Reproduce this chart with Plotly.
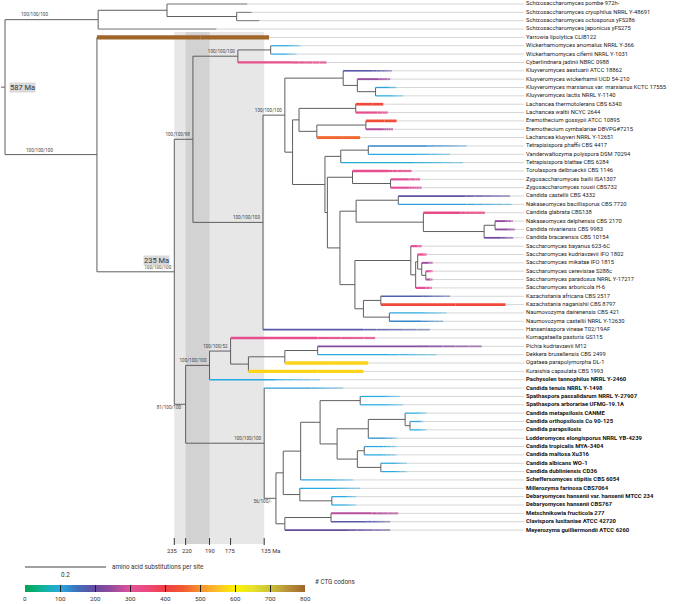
import plotly.graph_objects as go

# ---------------- data ----------------
LEAVES = [
    "Schizosaccharomyces pombe 972h-", "Schizosaccharomyces cryophilus NRRL Y-48691",
    "Schizosaccharomyces octosporus yFS286", "Schizosaccharomyces japonicus yFS275",
    "Yarrowia lipolytica CLIB122", "Wickerhamomyces anomalus NRRL Y-366",
    "Wickerhamomyces ciferrii NRRL Y-1031", "Cyberlindnera jadinii NBRC 0988",
    "Kluyveromyces aestuarii ATCC 18862", "Kluyveromyces wickerhamii UCD 54-210",
    "Kluyveromyces marxianus var. marxianus KCTC 17555", "Kluyveromyces lactis NRRL Y-1140",
    "Lachancea thermotolerans CBS 6340", "Lachancea waltii NCYC 2644",
    "Eremothecium gossypii ATCC 10895", "Eremothecium cymbalariae DBVPG#7215",
    "Lachancea kluyveri NRRL Y-12651", "Tetrapisispora phaffii CBS 4417",
    "Vanderwaltozyma polyspora DSM 70294", "Tetrapisispora blattae CBS 6284",
    "Torulaspora delbrueckii CBS 1146", "Zygosaccharomyces bailii ISA1307",
    "Zygosaccharomyces rouxii CBS732", "Candida castellii CBS 4332",
    "Nakaseomyces bacillisporus CBS 7720", "Candida glabrata CBS138",
    "Nakaseomyces delphensis CBS 2170", "Candida nivariensis CBS 9983",
    "Candida bracarensis CBS 10154", "Saccharomyces bayanus 623-6C",
    "Saccharomyces kudriavzevii IFO 1802", "Saccharomyces mikatae IFO 1815",
    "Saccharomyces cerevisiae S288c", "Saccharomyces paradoxus NRRL Y-17217",
    "Saccharomyces arboricola H-6", "Kazachstania africana CBS 2517",
    "Kazachstania naganishii CBS 8797", "Naumovozyma dairenensis CBS 421",
    "Naumovozyma castellii NRRL Y-12630", "Hanseniaspora vineae T02/19AF",
    "Komagataella pastoris GS115", "Pichia kudriavzevii M12",
    "Dekkera bruxellensis CBS 2499", "Ogataea parapolymorpha DL-1",
    "Kuraishia capsulata CBS 1993", "Pachysolen tannophilus NRRL Y-2460",
    "Candida tenuis NRRL Y-1498", "Spathaspora passalidarum NRRL Y-27907",
    "Spathaspora arborariae UFMG-19.1A", "Candida metapsilosis CANME",
    "Candida orthopsilosis Co 90-125", "Candida parapsilosis",
    "Lodderomyces elongisporus NRRL YB-4239", "Candida tropicalis MYA-3404",
    "Candida maltosa Xu316", "Candida albicans WO-1", "Candida dubliniensis CD36",
    "Scheffersomyces stipitis CBS 6054", "Millerozyma farinosa CBS7064",
    "Debaryomyces hansenii var. hansenii MTCC 234", "Debaryomyces hansenii CBS767",
    "Metschnikowia fructicola 277", "Clavispora lusitaniae ATCC 42720",
    "Meyerozyma guilliermondii ATCC 6260",
]
FIRST_BOLD = 45  # CUG-Ser1 clade shown in bold (index of first bold leaf)

# number of CTG codons per genome (None = not coloured)
CTG = [None, None, None, None, 800, 100, 100, 320, 180, 250, 110, 100, 420, 320,
       430, 270, 460, 130, 100, 90, 320, 310, 300, 190, 110, 330, 250, 240, 210,
       310, 320, 260, 300, 260, 310, 170, 420, 100, 130, 180, 320, 230, 100, 570,
       570, 100, 110, 100, 100, 100, 100, 100, 120, 100, 100, 100, 100, 100, 100,
       100, 100, 270, 180, 200]

# tip depths (amino acid substitutions per site from root)
TIP_DEPTH = [0.598, 0.609, 0.628, 0.522, 0.652, 0.730, 0.720, 0.794, 0.955, 0.951,
             0.967, 0.983, 0.934, 0.945, 0.967, 0.958, 0.877, 1.140, 1.099, 1.131,
             1.004, 1.025, 1.029, 1.247, 1.251, 1.185, 1.254, 1.259, 1.255, 1.029,
             1.041, 1.056, 1.056, 1.056, 1.054, 1.099, 1.236, 1.091, 1.082, 1.049,
             0.914, 1.177, 1.066, 0.897, 0.885, 0.778, 0.835, 0.975, 0.983, 1.041,
             1.033, 1.041, 0.967, 0.967, 0.967, 0.992, 0.992, 0.860, 0.877, 0.868,
             0.868, 0.971, 0.951, 0.951]

# internal nodes: name -> (depth, children); children are node names or leaf indices
NODES = {
    "root": (0.000, ["SCH", "YAR"]),
    "SCH": (0.230, ["SCH_a", 3]), "SCH_a": (0.400, [0, "SCH_b"]), "SCH_b": (0.572, [1, 2]),
    "YAR": (0.227, [4, "A"]),
    "A": (0.418, ["B", "C"]),
    "B": (0.464, ["WC", "N"]),
    "WC": (0.575, ["WICK", 7]), "WICK": (0.656, [5, 6]),
    "N": (0.637, ["S1", 39]),
    "S1": (0.691, ["K", "R"]),
    "K": (0.835, [8, "K2"]), "K2": (0.870, [9, "K3"]), "K3": (0.915, [10, 11]),
    "R": (0.710, ["LE", "X"]),
    "LE": (0.726, ["L", "EK"]), "L": (0.866, [12, 13]),
    "EK": (0.770, ["E", 16]), "E": (0.891, [14, 15]),
    "X": (0.790, ["TET", "Y"]),
    "TET": (0.829, ["TET2", 19]), "TET2": (0.897, [17, 18]),
    "Y": (0.796, ["ZT", "Z"]),
    "ZT": (0.858, [20, "ZYG"]), "ZYG": (0.952, [21, 22]),
    "Z": (0.827, ["NAK", "SKN"]),
    "NAK": (0.867, ["NAK1", "NAK2"]), "NAK1": (0.971, [23, 24]),
    "NAK2": (1.033, [25, "NAK3"]), "NAK3": (1.183, ["NAK4", 28]), "NAK4": (1.210, [26, 27]),
    "SKN": (0.864, ["SAC", "KN"]),
    "SAC": (1.002, [29, "SAC1"]), "SAC1": (1.014, ["SAC2", 34]),
    "SAC2": (1.019, [30, "SAC3"]), "SAC3": (1.029, [31, "SAC4"]), "SAC4": (1.039, [32, 33]),
    "KN": (0.885, ["KAZ", "NAU"]), "KAZ": (0.928, [35, 36]), "NAU": (0.949, [37, 38]),
    "C": (0.446, ["MET", "CUG"]),
    "MET": (0.505, ["MET1", 45]), "MET1": (0.557, [40, "MET2"]),
    "MET2": (0.601, ["MET3", 44]), "MET3": (0.691, ["MET4", 43]), "MET4": (0.772, [41, 42]),
    "CUG": (0.640, [46, "CUG1"]),
    "CUG1": (0.669, ["CUG2", "MCM"]),
    "CUG2": (0.687, ["SCHG", "DEBG"]),
    "SCHG": (0.730, ["SC", 57]), "SC": (0.778, ["SPA", "CAN"]), "SPA": (0.877, [47, 48]),
    "CAN": (0.820, ["LOD", "CAL"]), "LOD": (0.897, ["PAR", 52]),
    "PAR": (0.988, [49, "PAR2"]), "PAR2": (1.000, [50, 51]),
    "CAL": (0.870, ["TRO", "ALB"]), "TRO": (0.887, [53, 54]), "ALB": (0.928, [55, 56]),
    "DEBG": (0.728, [58, "DEB"]), "DEB": (0.807, [59, 60]),
    "MCM": (0.691, ["MC", 63]), "MC": (0.805, [61, 62]),
}

SUPPORT = {"SCH": "100/100/100", "YAR": "100/100/100", "A": "100/100/100",
           "B": "100/100/98", "WC": "100/100/100", "N": "100/100/100",
           "S1": "100/100/100", "C": "81/100/100", "MET": "100/100/100",
           "MET1": "100/100/52", "CUG": "100/100/100", "CUG1": "56/100/-"}
AGES = {"root": "587 Ma", "A": "235 Ma"}
TIME_NODES = ["A", "C", "MET", "MET1", "CUG"]
TIME_LABELS = ["235", "220", "190", "175", "135 Ma"]
SCALE_LEN = 0.2
CB_TICKS = [0, 100, 200, 300, 400, 500, 600, 700, 800]

# ---------------- layout constants ----------------
W, H = 683, 604
PX = 405.0            # pixels per substitution unit
X0PX = 5.0            # root pixel position
ROW = 8.35            # pixels per leaf row
Y0PX = 4.0
FONT = "Roboto"
CB_X0, CB_X1 = 25, 305
def px2x(p): return (p - X0PX) / PX
def py2y(p): return (p - Y0PX) / ROW

CSCALE = [(0, "#00a651"), (50, "#0fb49a"), (100, "#27aae1"), (150, "#3f6fba"),
          (200, "#674a9e"), (250, "#9a4c9f"), (300, "#e3519c"), (350, "#ec4a7a"),
          (400, "#ee3e43"), (450, "#f15b31"), (500, "#f7922b"), (550, "#fcc02c"),
          (600, "#fff200"), (650, "#e6e22d"), (700, "#cbc336"), (750, "#b7923a"),
          (800, "#a0652b")]

def hex2rgb(h): return tuple(int(h[i:i + 2], 16) for i in (1, 3, 5))
def ctg_rgb(v):
    for (a, ca), (b, cb) in zip(CSCALE[:-1], CSCALE[1:]):
        if a <= v <= b:
            t = (v - a) / (b - a)
            c1, c2 = hex2rgb(ca), hex2rgb(cb)
            return tuple(c1[k] + (c2[k] - c1[k]) * t for k in range(3))
    return hex2rgb(CSCALE[-1][1])
def blend(c, t, g=(214, 214, 214)):
    return "rgb(%d,%d,%d)" % tuple(c[k] + (g[k] - c[k]) * t for k in range(3))

# ---------------- tree geometry ----------------
ypos = {}
def node_y(n):
    if isinstance(n, int):
        return float(n)
    if n not in ypos:
        ch = NODES[n][1]
        ypos[n] = (node_y(ch[0]) + node_y(ch[-1])) / 2
    return ypos[n]
for n in NODES:
    node_y(n)
def depth(n):
    return TIP_DEPTH[n] if isinstance(n, int) else NODES[n][0]

ix, iy, tips = [], [], []
for n, (d, ch) in NODES.items():
    ix += [d, d, None]; iy += [node_y(ch[0]), node_y(ch[-1]), None]
    for c in ch:
        if isinstance(c, int):
            tips.append((c, d))
        else:
            ix += [d, depth(c), None]; iy += [node_y(c), node_y(c), None]
ix += [px2x(1), 0, None]; iy += [ypos["root"], ypos["root"], None]

fig = go.Figure()
LAB_X = px2x(526)
ext_x, ext_y = [], []
for i in range(len(LEAVES)):
    ext_x += [TIP_DEPTH[i], px2x(524), None]; ext_y += [i, i, None]
fig.add_trace(go.Scatter(x=ext_x, y=ext_y, mode="lines", line=dict(color="#d6d6d6", width=1),
                         hoverinfo="skip", showlegend=False))
fig.add_trace(go.Scatter(x=ix, y=iy, mode="lines", line=dict(color="#5e5e5e", width=1),
                         hoverinfo="skip", showlegend=False))

NSEG = 5
for leaf, pd in tips:
    v = CTG[leaf]
    td = TIP_DEPTH[leaf]
    if v is None:
        fig.add_trace(go.Scatter(x=[pd, td], y=[leaf, leaf], mode="lines",
                                 line=dict(color="#707070", width=1),
                                 hoverinfo="skip", showlegend=False))
        continue
    base = ctg_rgb(v)
    wdt = 0.8 + v / 220.0
    fade = max(0.0, min(0.55, 0.55 * (420 - v) / 270))   # thin branches fade toward tip
    split = pd + (td - pd) * 0.6
    fig.add_trace(go.Scatter(x=[pd, split], y=[leaf, leaf], mode="lines",
                             line=dict(color=blend(base, 0.0), width=wdt),
                             hoverinfo="skip", showlegend=False))
    if fade > 0:
        for k in range(NSEG):
            a = split + (td - split) * k / NSEG
            b = split + (td - split) * (k + 1) / NSEG
            fig.add_trace(go.Scatter(x=[a, b], y=[leaf, leaf], mode="lines",
                                     line=dict(color=blend(base, fade * (k + 1) / NSEG), width=wdt),
                                     hoverinfo="skip", showlegend=False))
    else:
        fig.add_trace(go.Scatter(x=[split, td], y=[leaf, leaf], mode="lines",
                                 line=dict(color=blend(base, 0.0), width=wdt),
                                 hoverinfo="skip", showlegend=False))

# leaf labels
norm = [i for i in range(len(LEAVES)) if i < FIRST_BOLD]
bold = [i for i in range(len(LEAVES)) if i >= FIRST_BOLD]
fig.add_trace(go.Scatter(x=[LAB_X] * len(norm), y=norm, mode="text",
                         text=[LEAVES[i] for i in norm], textposition="middle right",
                         textfont=dict(family=FONT, size=5.8, color="#222"),
                         hoverinfo="skip", showlegend=False))
fig.add_trace(go.Scatter(x=[LAB_X] * len(bold), y=bold, mode="text",
                         text=["<b>%s</b>" % LEAVES[i] for i in bold], textposition="middle right",
                         textfont=dict(family=FONT, size=5.9, color="#111"),
                         hoverinfo="skip", showlegend=False))

# support labels
sx, sy, st = [], [], []
for n, txt in SUPPORT.items():
    d = NODES[n][0]
    y = ypos[n]
    if n == "SCH":
        sx.append(px2x(48)); sy.append(y - 0.55)
    elif n == "YAR":
        sx.append(px2x(53)); sy.append(y - 0.5)
    elif n in ("C", "CUG1"):
        sx.append(d - 4.5 / PX); sy.append(y + 0.45)
    else:
        sx.append(d - 3 / PX); sy.append(y - 0.5)
    st.append(txt)
fig.add_trace(go.Scatter(x=sx, y=sy, mode="text", text=st, textposition="middle left",
                         textfont=dict(family=FONT, size=4.6, color="#444"),
                         hoverinfo="skip", showlegend=False))

shapes, annotations = [], []
# time bands
ytop, ybot = py2y(32), py2y(544)
shapes.append(dict(type="rect", xref="x", yref="y", x0=NODES["A"][0], x1=NODES["CUG"][0],
                   y0=ytop, y1=ybot, fillcolor="#e7e7e7", line=dict(width=0), layer="below"))
shapes.append(dict(type="rect", xref="x", yref="y", x0=NODES["C"][0], x1=NODES["MET"][0],
                   y0=ytop, y1=ybot, fillcolor="#d2d2d2", line=dict(width=0), layer="below"))
for k, (n, lab) in enumerate(zip(TIME_NODES, TIME_LABELS)):
    d = NODES[n][0]
    shapes.append(dict(type="line", xref="x", yref="y", x0=d, x1=d, y0=py2y(538), y1=py2y(545),
                       line=dict(color="#333", width=1)))
    nudge = {0: -1.5, 1: 1.5}.get(k, 0) / PX
    if lab.endswith("Ma"):
        annotations.append(dict(x=d - 5.5 / PX, y=py2y(551), xref="x", yref="y", text=lab,
                                showarrow=False, xanchor="left",
                                font=dict(family=FONT, size=5.8, color="#333")))
    else:
        annotations.append(dict(x=d + nudge, y=py2y(551), xref="x", yref="y", text=lab,
                                showarrow=False,
                                font=dict(family=FONT, size=5.8, color="#333")))
# age boxes
annotations.append(dict(x=px2x(9), y=ypos["root"], xref="x", yref="y", text=AGES["root"],
                        showarrow=False, xanchor="left", bgcolor="#d9d9d9", borderpad=0,
                        font=dict(family=FONT, size=7.5, color="#333")))
annotations.append(dict(x=NODES["A"][0] - 4 / PX, y=ypos["A"] - 1.4, xref="x", yref="y",
                        text=AGES["A"], showarrow=False, xanchor="right", bgcolor="#d9d9d9",
                        borderpad=0, font=dict(family=FONT, size=7.5, color="#333")))
# scale bar
sb0 = px2x(25)
shapes.append(dict(type="line", xref="x", yref="y", x0=sb0, x1=sb0 + SCALE_LEN,
                   y0=py2y(567), y1=py2y(567), line=dict(color="#a0a0a0", width=2)))
annotations.append(dict(x=sb0 + SCALE_LEN / 2, y=py2y(575), xref="x", yref="y",
                        text=str(SCALE_LEN), showarrow=False,
                        font=dict(family=FONT, size=6.3, color="#333")))
annotations.append(dict(x=sb0 + SCALE_LEN + 4 / PX, y=py2y(566.5), xref="x", yref="y",
                        text="amino acid substitutions per site", showarrow=False, xanchor="left",
                        font=dict(family=FONT, size=6.3, color="#333")))
# colour bar
zs = list(range(0, 801, 2))
fig.add_trace(go.Heatmap(z=[zs], x=zs, y=[0], xaxis="x2", yaxis="y2", zmin=0, zmax=800,
                         colorscale=[[v / 800, c] for v, c in CSCALE], showscale=False,
                         hoverinfo="skip"))
for t in CB_TICKS:
    annotations.append(dict(x=t, y=1 - 598.5 / H, xref="x2", yref="paper", text=str(t),
                            showarrow=False, yanchor="middle", borderpad=0,
                            font=dict(family=FONT, size=6.2, color="#333")))
annotations.append(dict(x=313 / W, y=1 - 588 / H, xref="paper", yref="paper",
                        text="# CTG codons", showarrow=False, xanchor="left",
                        font=dict(family=FONT, size=6.3, color="#333")))

fig.update_layout(
    width=W, height=H, autosize=False, margin=dict(l=0, r=0, t=0, b=0),
    paper_bgcolor="white", plot_bgcolor="white", template="none",
    xaxis=dict(range=[px2x(0), px2x(W)], visible=False, fixedrange=True, domain=[0, 1]),
    yaxis=dict(range=[py2y(H), py2y(0)], visible=False, fixedrange=True, domain=[0, 1]),
    xaxis2=dict(domain=[CB_X0 / W, CB_X1 / W], anchor="y2", range=[0, 800], tickvals=CB_TICKS,
                ticks="inside", ticklen=7, tickwidth=1, tickcolor="#222", showgrid=False,
                zeroline=False, showline=False, showticklabels=False, automargin=False),
    yaxis2=dict(domain=[1 - 592 / H, 1 - 585 / H], anchor="x2", range=[-0.5, 0.5],
                visible=False, automargin=False),
    shapes=shapes, annotations=annotations, showlegend=False,
)
fig.write_html("out.html", config={"displayModeBar": False},
               post_script="document.body.style.margin='0';document.body.style.padding='0';"
                           "document.body.style.overflow='hidden';")
